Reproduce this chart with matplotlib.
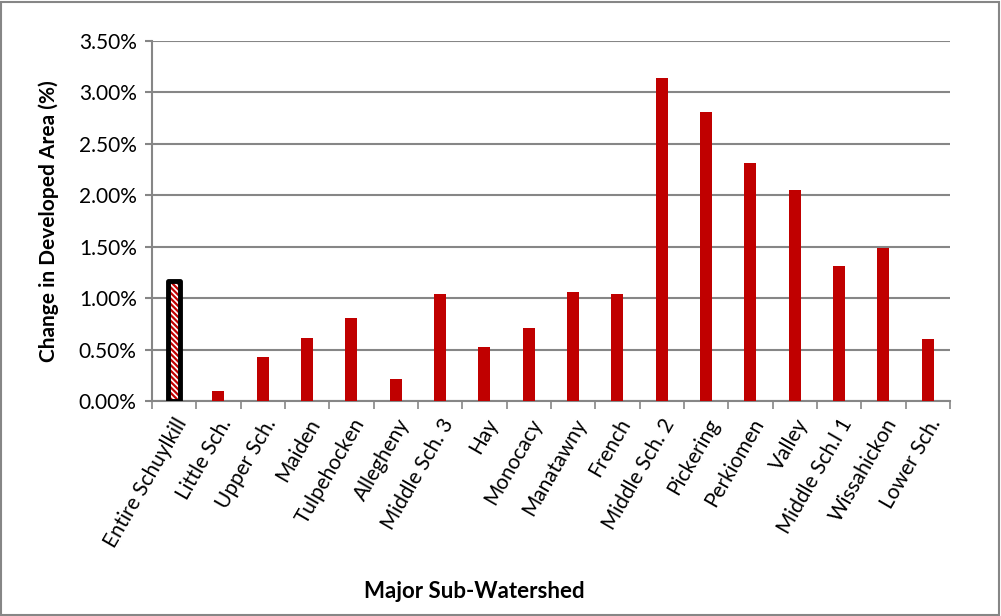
import matplotlib
matplotlib.use('Agg')

import numpy as np
import matplotlib.pyplot as plt
from matplotlib.ticker import PercentFormatter

plt.rcParams['font.family'] = ['Lato', 'DejaVu Sans']
plt.rcParams['hatch.linewidth'] = 1.6

# Watershed names and percent change in developed area
watersheds = ["Entire Schuylkill", "Little Sch.", "Upper Sch.", "Maiden", "Tulpehocken",
              "Allegheny", "Middle Sch. 3", "Hay", "Monocacy", "Manatawny", "French",
              "Middle Sch. 2", "Pickering", "Perkiomen", "Valley", "Middle Sch.l 1",
              "Wissahickon", "Lower Sch."]
change = [1.17, 0.10, 0.43, 0.61, 0.81, 0.21, 1.04, 0.52, 0.71, 1.06, 1.04,
          3.14, 2.81, 2.31, 2.05, 1.31, 1.49, 0.60]

red = '#C00000'
grey = '#868686'

fig = plt.figure(figsize=(10.01, 6.16), dpi=100)
ax = fig.add_axes([0.1518, 0.349, 0.7972, 0.585])

x = np.arange(len(watersheds))
w = 0.27
ax.bar(x[1:], change[1:], width=w, color=red, zorder=3)

# first bar: hatched with black rounded outline
ax.bar(x[0], change[0], width=w, color='white', edgecolor=red, hatch='\\\\\\\\\\\\',
       linewidth=0, zorder=3)
ax.bar(x[0], change[0], width=w, fill=False, edgecolor='black', linewidth=3.5,
       joinstyle='round', zorder=4)

ax.set_xlim(-0.5, len(watersheds) - 0.5)
ax.set_ylim(0, 3.5)
ax.set_yticks(np.arange(0, 3.51, 0.5))
ax.yaxis.set_major_formatter(PercentFormatter(decimals=2))
ax.yaxis.grid(True, color=grey, linewidth=1.5, zorder=0)

ax.set_xticks(x)
ax.set_xticklabels(watersheds, rotation=60, ha='right', rotation_mode='anchor')
ax.set_xticks(np.arange(-0.5, len(watersheds)), minor=True)
ax.tick_params(axis='x', which='major', length=0, labelsize=15, pad=10)
ax.tick_params(axis='x', which='minor', length=6, color=grey, width=1.2)
ax.tick_params(axis='y', length=5, color=grey, width=1.5, labelsize=15, pad=6)

for s in ['top', 'right']:
    ax.spines[s].set_visible(False)
for s in ['left', 'bottom']:
    ax.spines[s].set_color(grey)
    ax.spines[s].set_linewidth(1.5)

ax.set_ylabel('Change in Developed Area (%)', fontsize=15, fontweight='bold', labelpad=14)
fig.text(0.474, 0.03, 'Major Sub-Watershed', fontsize=16, fontweight='bold', ha='center')

fig.patches.append(plt.Rectangle((0.001, 0.002), 0.997, 0.995, transform=fig.transFigure,
                                 fill=False, edgecolor=grey, linewidth=1.5))

fig.savefig('out.png', dpi=100)
